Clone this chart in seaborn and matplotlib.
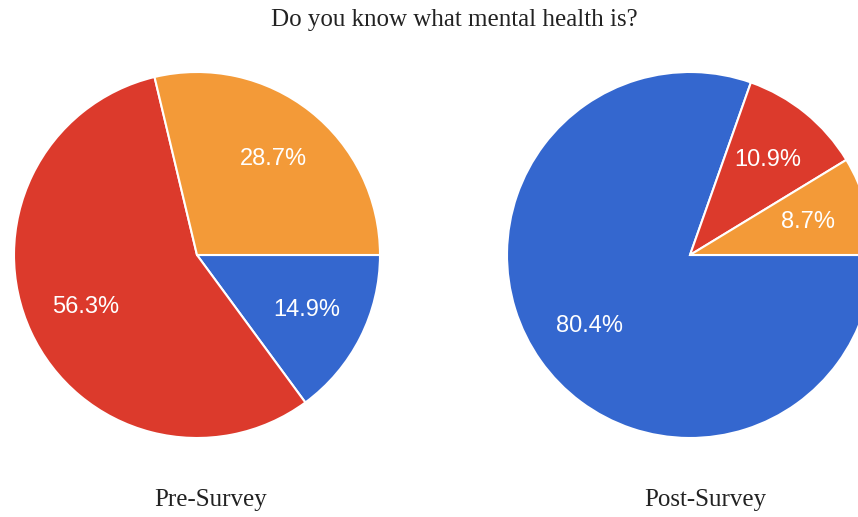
import matplotlib
matplotlib.use("Agg")
import matplotlib.pyplot as plt
import seaborn as sns

# Dados
respostas = ["Yes", "No", "Maybe"]
pre_survey = [14.9, 56.3, 28.7]
post_survey = [80.4, 10.9, 8.7]
cores = ["#3467CF", "#DC3A2C", "#F39A38"]

sns.set_theme(style="white")
plt.rcParams["font.family"] = ["Liberation Sans", "DejaVu Sans"]

fig = plt.figure(figsize=(8.58, 5.17), dpi=100)
ax = fig.add_axes([0, 0, 1, 1])

raio = 183
for valores, cx in [(pre_survey, 197), (post_survey, 690)]:
    total = sum(valores)
    # mostrar o valor original (a soma não é exatamente 100)
    ax.pie(
        valores, colors=cores, startangle=0, counterclock=False,
        center=(cx, 262), radius=raio,
        autopct=lambda p, t=total: f"{p * t / 100:.1f}%", pctdistance=0.67,
        wedgeprops=dict(edgecolor="white", linewidth=1.5),
        textprops=dict(color="white", fontsize=17),
    )

ax.set_xlim(0, 858)
ax.set_ylim(0, 517)
ax.set_aspect("auto")
ax.axis("off")

serif = ["Liberation Serif", "DejaVu Serif"]
fig.text(454 / 858, 1 - 20 / 517, "Do you know what mental health is?",
         ha="center", va="center", fontsize=18, family=serif, color="#222222")
fig.text(211 / 858, 1 - 500 / 517, "Pre-Survey", ha="center", va="center",
         fontsize=18, family=serif, color="#222222")
fig.text(705 / 858, 1 - 500 / 517, "Post-Survey", ha="center", va="center",
         fontsize=18, family=serif, color="#222222")

fig.savefig("out.png", dpi=100)
